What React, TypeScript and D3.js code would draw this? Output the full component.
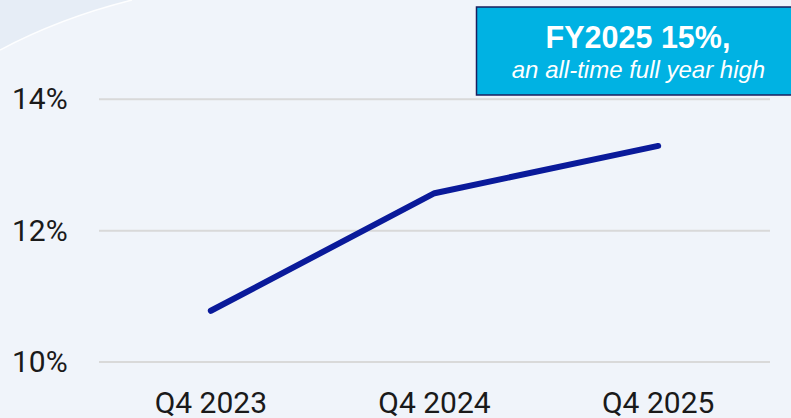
import React from "react";
import * as d3 from "d3";

const W = 791;
const H = 418;

// quarter-end values
const quarters = ["Q4 2023", "Q4 2024", "Q4 2025"];
const margin = [10.78, 12.57, 13.29];
const yTicks = [10, 12, 14];

const calloutTitle = "FY2025 15%,";
const calloutSub = "an all-time full year high";

export default function App() {
  const x = d3.scalePoint<string>().domain(quarters).range([99, 770]).padding(0.5);
  const y = d3.scaleLinear().domain([10, 14]).range([362, 99.3]);

  const line = d3
    .line<number>()
    .x((_, i) => x(quarters[i]) as number)
    .y((d) => y(d));

  const font = "Roboto, 'Noto Sans', sans-serif";

  return (
    <svg
      width={W}
      height={H}
      style={{ position: "absolute", left: 0, top: 0, display: "block" }}
    >
      {/* background with the faint swoosh top left */}
      <rect width={W} height={H} fill="#f0f4fa" />
      <path d="M0,0 L132,0 Q60,18 0,50 Z" fill="#e6edf6" />
      <path d="M0,50 Q60,18 132,0" fill="none" stroke="#ffffff" strokeWidth={1.5} opacity={0.9} />

      {/* grid */}
      {yTicks.map((t) => (
        <line
          key={t}
          x1={99}
          x2={770}
          y1={y(t)}
          y2={y(t)}
          stroke="#d9d9d9"
          strokeWidth={2}
        />
      ))}

      {/* y labels */}
      {yTicks.map((t) => (
        <text
          key={t}
          x={12}
          y={y(t) + 10}
          fontFamily={font}
          fontSize={30}
          fill="#1a1a1a"
        >
          {t}%
        </text>
      ))}

      {/* x labels */}
      {quarters.map((q) => (
        <text
          key={q}
          x={x(q)}
          y={413}
          textAnchor="middle"
          fontFamily={font}
          fontSize={30}
          fill="#1a1a1a"
        >
          {q}
        </text>
      ))}

      <path
        d={line(margin) ?? ""}
        fill="none"
        stroke="#0a1a9a"
        strokeWidth={6}
        strokeLinecap="round"
        strokeLinejoin="round"
      />

      {/* callout */}
      <rect
        x={476.5}
        y={7}
        width={330}
        height={88}
        fill="#00b2e3"
        stroke="#1b1f5e"
        strokeWidth={1.5}
      />
      <text
        x={638}
        y={48}
        textAnchor="middle"
        fontFamily="'Liberation Sans', Arial, sans-serif"
        fontWeight="bold"
        fontSize={30.5}
        fill="#ffffff"
      >
        {calloutTitle}
      </text>
      <text
        x={638.5}
        y={78}
        textAnchor="middle"
        fontFamily="'Liberation Sans', Arial, sans-serif"
        fontStyle="italic"
        fontSize={24}
        fill="#ffffff"
      >
        {calloutSub}
      </text>
    </svg>
  );
}
